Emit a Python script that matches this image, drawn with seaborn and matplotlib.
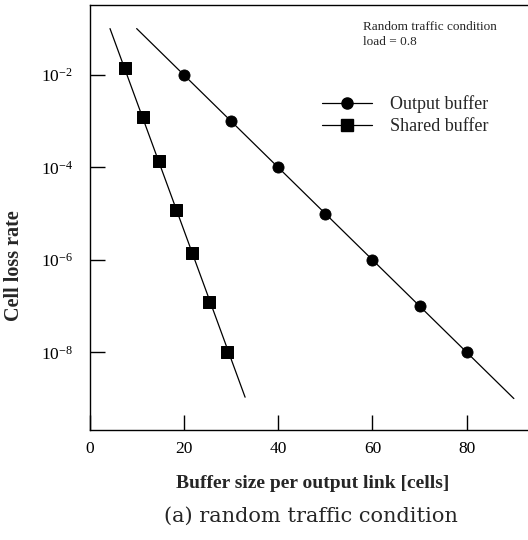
import numpy as np
import pandas as pd
import matplotlib
matplotlib.use('Agg')
import matplotlib.pyplot as plt
import seaborn as sns
from matplotlib.lines import Line2D
from matplotlib.ticker import FixedLocator, FuncFormatter

# data
out_x = [20, 30, 40, 50, 60, 70, 80]
out_y = [1e-2, 1e-3, 1e-4, 1e-5, 1e-6, 1e-7, 1e-8]
out_fit_x = [10, 90]
out_fit_y = [1e-1, 1e-9]

sh_x = [7.5, 11.3, 14.8, 18.3, 21.7, 25.3, 29.1]
sh_y = [1.4e-2, 1.2e-3, 1.4e-4, 1.2e-5, 1.4e-6, 1.2e-7, 1e-8]
sh_fit_x = [4.35, 33.0]
sh_fit_y = [1.0e-1, 1.07e-9]

x_ticks = [0, 20, 40, 60, 80]
y_ticks = [1e-2, 1e-4, 1e-6, 1e-8]

sns.set_style('ticks')
plt.rcParams['font.family'] = ['Liberation Serif', 'DejaVu Serif']
plt.rcParams['mathtext.fontset'] = 'custom'
plt.rcParams['mathtext.rm'] = 'Liberation Serif'

fig = plt.figure(figsize=(5.28, 5.40), dpi=100)
ax = fig.add_axes([89.5 / 528, 110 / 540, 438.5 / 528, 425 / 540])

sns.lineplot(x=out_fit_x, y=out_fit_y, color='black', lw=0.9, ax=ax)
sns.lineplot(x=sh_fit_x, y=sh_fit_y, color='black', lw=0.9, ax=ax)
sns.scatterplot(x=out_x, y=out_y, marker='o', s=64, color='black',
                edgecolor='black', ax=ax, zorder=3)
sns.scatterplot(x=sh_x, y=sh_y, marker='s', s=80, color='black',
                edgecolor='black', ax=ax, zorder=3)

ax.set_yscale('log')
ax.set_xlim(0, 93)
ax.set_ylim(10 ** -9.68, 10 ** -0.49)

ax.xaxis.set_major_locator(FixedLocator(x_ticks))
ax.yaxis.set_major_locator(FixedLocator(y_ticks))
ax.yaxis.set_minor_locator(FixedLocator([]))
ax.yaxis.set_major_formatter(FuncFormatter(
    lambda v, p: r'$\mathregular{10^{-%d}}$' % round(-np.log10(v))))
ax.tick_params(axis='both', direction='in', length=11, width=1.0,
               labelsize=12.5, colors='black')
ax.tick_params(axis='y', pad=12)
ax.tick_params(axis='x', pad=8)

for s in ['left', 'bottom', 'top']:
    ax.spines[s].set_linewidth(1.0)
    ax.spines[s].set_color('black')
ax.spines['right'].set_visible(False)

ax.set_xlabel('Buffer size per output link [cells]', fontsize=14,
              fontweight='bold')
ax.set_ylabel('Cell loss rate', fontsize=14.5, fontweight='bold')
ax.xaxis.set_label_coords(0.51, -0.125)
ax.yaxis.set_label_coords(-0.172, 0.386)
ax.xaxis.label.set_va('center')
ax.yaxis.label.set_va('center')

ax.text(0.624, 0.962, 'Random traffic condition\nload = 0.8',
        transform=ax.transAxes, ha='left', va='top', fontsize=9.5,
        linespacing=1.35)

handles = [Line2D([0], [0], color='black', lw=0.9, marker='o', markersize=8),
           Line2D([0], [0], color='black', lw=0.9, marker='s', markersize=8.5)]
ax.legend(handles, ['Output buffer', 'Shared buffer'], loc='upper left',
          bbox_to_anchor=(0.530, 0.787), frameon=False, fontsize=13,
          handlelength=2.8, handletextpad=0.95, labelspacing=0.25,
          borderpad=0, borderaxespad=0)

fig.text(0.589, 0.043, '(a) random traffic condition', ha='center',
         va='center', fontsize=15, family='DejaVu Serif')

fig.savefig('out.png', dpi=100)
